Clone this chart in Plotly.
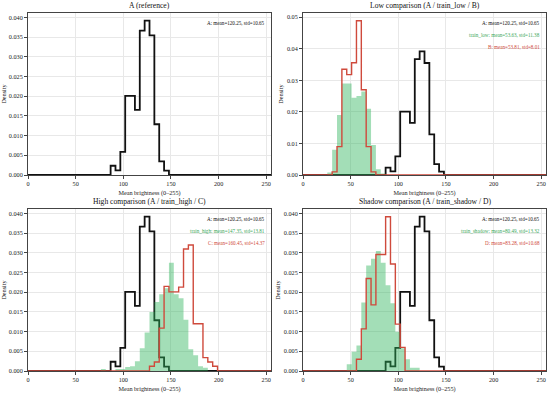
import numpy as np
import plotly.graph_objects as go

# ---------------- data (densities per histogram bin, 50 bins over 0..255) ----------------
N_BINS = 50
X_MIN, X_MAX = 0, 255

A_START = 17
A_DENS = [0.00235, 0.00118, 0.00588, 0.0201, 0.0201, 0.01655, 0.0367, 0.0392,
          0.0355, 0.0129, 0.00345, 0.00109]

LOW_TRAIN_START = 5
LOW_TRAIN_DENS = [0.0008, 0.008, 0.019, 0.029, 0.029, 0.0245, 0.025, 0.0265,
                  0.021, 0.0095, 0.0018, 0.0005]
B_START = 6
B_DENS = [0.001, 0.009, 0.0335, 0.0318, 0.0356, 0.0489, 0.027, 0.009, 0.001]

HIGH_TRAIN_START = 15
HIGH_TRAIN_DENS = [0.0005, 0.0, 0.0, 0.0005, 0.0005, 0.001, 0.0012, 0.0025, 0.0058,
                   0.0098, 0.015, 0.0175, 0.0195, 0.021, 0.0275, 0.0195, 0.0185,
                   0.013, 0.0055, 0.004, 0.0012, 0.0008]
C_START = 25
C_DENS = [0.0012, 0.0023, 0.0109, 0.0215, 0.0201, 0.0201, 0.0213, 0.031, 0.032,
          0.012, 0.012, 0.0034, 0.0023, 0.0012]

SHADOW_TRAIN_START = 9
SHADOW_TRAIN_DENS = [0.0017, 0.0049, 0.0065, 0.0174, 0.0268, 0.0285, 0.0305,
                     0.0275, 0.0218, 0.0172, 0.0100, 0.0058, 0.003, 0.0008, 0.0008]
D_START = 11
D_DENS = [0.003, 0.0107, 0.0235, 0.0168, 0.0296, 0.0296, 0.0392, 0.0272, 0.0119, 0.006]

TITLES = ["A (reference)", "Low comparison (A / train_low / B)",
          "High comparison (A / train_high / C)", "Shadow comparison (A / train_shadow / D)"]
STAT_A = "A: mean=120.25, std=10.65"
STATS = [
    [],
    ["train_low: mean=53.63, std=11.38", "B: mean=53.81, std=8.01"],
    ["train_high: mean=147.35, std=13.81", "C: mean=160.45, std=14.37"],
    ["train_shadow: mean=80.49, std=13.32", "D: mean=83.28, std=10.68"],
]
X_TICKS = [0, 50, 100, 150, 200, 250]
X_LABEL = "Mean brightness (0–255)"
Y_LABEL = "Density"

# ---------------- styling ----------------
FONT = "Liberation Serif"
GREEN_FILL = "rgba(46,179,90,0.44)"
GREEN_TEXT = "#3aa85a"
RED = "#cf4a3c"
BLACK = "#111111"
GRID = "#e8e8e8"
FRAME = "#444444"

W, H = 550, 393
edges = np.linspace(X_MIN, X_MAX, N_BINS + 1)


def full(start, dens):
    arr = np.zeros(N_BINS)
    arr[start:start + len(dens)] = dens
    return arr


def step_xy(d):
    x = [edges[0]] + list(edges[:-1]) + [edges[-1]]
    y = [0.0] + list(d) + [0.0]
    return x, y


A = full(A_START, A_DENS)
panels = [
    (None, None),
    (full(LOW_TRAIN_START, LOW_TRAIN_DENS), full(B_START, B_DENS)),
    (full(HIGH_TRAIN_START, HIGH_TRAIN_DENS), full(C_START, C_DENS)),
    (full(SHADOW_TRAIN_START, SHADOW_TRAIN_DENS), full(D_START, D_DENS)),
]

# plot area pixel boxes (left, right, top, bottom)
boxes = [(28, 271, 13, 175), (303, 546, 13, 175), (28, 271, 209, 371), (303, 546, 209, 371)]

fig = go.Figure()
annotations = []
for i, (train, other) in enumerate(panels):
    n = "" if i == 0 else str(i + 1)
    xa, ya = "x" + n, "y" + n
    l, r, t, b = boxes[i]
    # A outline
    x, y = step_xy(A)
    fig.add_trace(go.Scatter(x=x, y=y, xaxis=xa, yaxis=ya, mode="lines",
                             line=dict(color=BLACK, width=1.8, shape="hv"), showlegend=False))
    ymax = A.max()
    if train is not None:
        x, y = step_xy(train)
        fig.add_trace(go.Scatter(x=x, y=y, xaxis=xa, yaxis=ya, mode="lines",
                                 line=dict(color="rgba(0,0,0,0)", width=0, shape="hv"),
                                 fill="tozeroy", fillcolor=GREEN_FILL, showlegend=False))
        x, y = step_xy(other)
        fig.add_trace(go.Scatter(x=x, y=y, xaxis=xa, yaxis=ya, mode="lines",
                                 line=dict(color=RED, width=1.4, shape="hv"), showlegend=False))
        ymax = max(ymax, train.max(), other.max())
    if i == 1:
        ytickvals = [0, 0.01, 0.02, 0.03, 0.04, 0.05]
        fmt = ".2f"
    else:
        ytickvals = [0, 0.005, 0.01, 0.015, 0.02, 0.025, 0.03, 0.035, 0.04]
        fmt = ".3f"
    axis_common = dict(showgrid=True, gridcolor=GRID, gridwidth=0.6, zeroline=False,
                       showline=True, mirror=True, linecolor=FRAME, linewidth=1,
                       ticks="outside", ticklen=3, tickwidth=0.8, tickcolor=FRAME,
                       automargin=False,
                       tickfont=dict(family=FONT, size=6.2, color="#222"))
    fig.update_layout({
        "xaxis" + n: dict(domain=[l / W, r / W], anchor=ya, range=[X_MIN, X_MAX],
                          tickvals=X_TICKS,
                          title=dict(text=X_LABEL, font=dict(family=FONT, size=6.2, color="#222"),
                                     standoff=4),
                          **axis_common),
        "yaxis" + n: dict(domain=[1 - b / H, 1 - t / H], anchor=xa, range=[0, ymax * 1.05],
                          tickvals=ytickvals, tickformat=fmt,
                          title=dict(text=Y_LABEL, font=dict(family=FONT, size=6.2, color="#222"),
                                     standoff=2),
                          **axis_common),
    })
    # subplot title
    annotations.append(dict(text=TITLES[i], xref="paper", yref="paper",
                            x=(l + r) / 2 / W, y=1 - t / H, xanchor="center", yanchor="bottom",
                            yshift=1, showarrow=False,
                            font=dict(family=FONT, size=7.6, color="#111")))
    # stats text
    lines = [(STAT_A, "#111")]
    if STATS[i]:
        lines += [(STATS[i][0], GREEN_TEXT), (STATS[i][1], RED)]
    for j, (txt, col) in enumerate(lines):
        annotations.append(dict(text=txt, xref="paper", yref="paper",
                                x=(r - 4) / W, y=1 - (t + 9.6 + 12.3 * j) / H,
                                xanchor="right", yanchor="middle", showarrow=False,
                                font=dict(family=FONT, size=5.1, color=col)))

fig.update_layout(width=W, height=H, margin=dict(l=0, r=0, t=0, b=0),
                  paper_bgcolor="white", plot_bgcolor="white",
                  annotations=annotations, showlegend=False)
fig.write_html("out.html", config={"displayModeBar": False},
               post_script="document.body.style.margin='0';document.body.style.overflow='hidden';")
